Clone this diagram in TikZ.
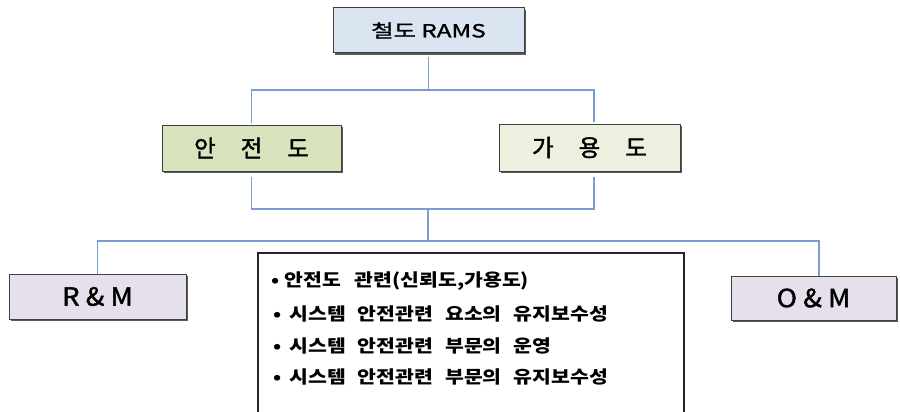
\documentclass[tikz,border=0pt]{standalone}
\usepackage{fontspec}
\setmainfont{Noto Sans CJK KR}
\newfontfamily\krw[FakeStretch=1.35,FakeBold=1.3]{Noto Sans CJK KR}
\newfontfamily\krl[FakeBold=1.6]{Noto Sans CJK KR}
\newfontfamily\krr[FakeStretch=1.1,FakeBold=1.6]{Noto Sans CJK KR}
\newfontfamily\krm[FakeStretch=1.17]{Noto Sans CJK KR}
\usetikzlibrary{shadows,backgrounds}
\definecolor{conncol}{RGB}{122,158,208}
\definecolor{topfill}{RGB}{219,229,241}
\definecolor{sfill}{RGB}{215,228,189}
\definecolor{afill}{RGB}{235,241,222}
\definecolor{mfill}{RGB}{229,224,236}
\begin{document}
\begin{tikzpicture}[x=1pt,y=-1pt,
  lvlbox/.style={draw=black!75, line width=1pt, inner sep=0pt,
    drop shadow={shadow xshift=1.8pt, shadow yshift=-1.8pt, fill=black!65, opacity=1}},
  bigtext/.style={font=\krl\fontsize{23.5}{25}\selectfont},
  rmtext/.style={font=\krr\fontsize{25}{27}\selectfont},
  itemtext/.style={anchor=west, inner sep=0pt, font=\krm\bfseries\fontsize{17.5}{19}\selectfont},
  conn/.style={draw=conncol, line width=1.8pt}]
\useasboundingbox (0,0) rectangle (900,412);
\clip (0,0) rectangle (900,412);

\node[lvlbox, fill=topfill, minimum width=191pt, minimum height=45pt,
  font=\krw\fontsize{18}{20}\selectfont] (t) at (428.5,30.5) {철도 RAMS};
\node[lvlbox, fill=sfill, minimum width=179pt, minimum height=46pt, bigtext] (s) at (251.5,148) {안\hspace{25pt}전\hspace{25pt}도};
\node[lvlbox, fill=afill, minimum width=181pt, minimum height=47pt, bigtext] (a) at (589.5,147.5) {가\hspace{25pt}용\hspace{25pt}도};
\node[lvlbox, fill=mfill, minimum width=177pt, minimum height=45pt, rmtext] (rm) at (97.5,296.5) {R \& M};
\node[lvlbox, fill=mfill, minimum width=165pt, minimum height=44pt, rmtext] (om) at (813.5,298) {O \& M};
\node[draw=black!85, fill=white, line width=1.5pt, minimum width=426pt, minimum height=175pt, anchor=north west] (m) at (257,252) {};

\node[itemtext] (l1) at (271,281) {•\hspace{5pt}안전도\hspace{14pt}관련(신뢰도,가용도)};
\node[itemtext] (l2) at (273,314) {•\hspace{8pt}시스템\hspace{12pt}안전관련\hspace{12pt}요소의\hspace{12pt}유지보수성};
\node[itemtext] (l3) at (273,346) {•\hspace{8pt}시스템\hspace{12pt}안전관련\hspace{12pt}부문의\hspace{12pt}운영};
\node[itemtext] (l4) at (273,377) {•\hspace{8pt}시스템\hspace{12pt}안전관련\hspace{12pt}부문의\hspace{12pt}유지보수성};

\coordinate (j1) at (428,90);
\coordinate (j2) at (428,209);
\coordinate (j3) at (428,241);
\begin{scope}[on background layer]
\draw[conn, shorten <=4pt] (t.south) -- (t.south |- j1);
\draw[conn, shorten >=2pt] (j1) -| (s.north);
\draw[conn, shorten >=2pt] (j1) -| ([xshift=4.5pt]a.north);
\draw[conn, shorten <=5pt] (s.south) |- (j2);
\draw[conn, shorten <=5pt] ([xshift=4.5pt]a.south) |- (j2);
\draw[conn] (j2) -- (j3);
\draw[conn] (j3) -| (rm.north);
\draw[conn] (j3) -| ([xshift=5.5pt]om.north);
\end{scope}
\end{tikzpicture}
\end{document}
